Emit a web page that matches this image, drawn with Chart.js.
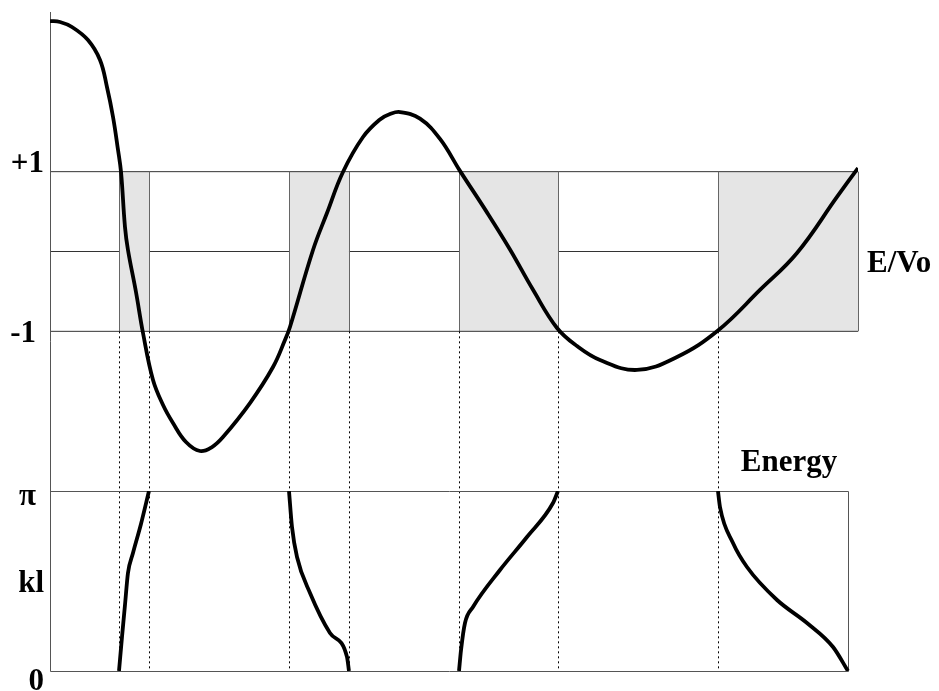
<!DOCTYPE html>
<html>
<head>
<meta charset="utf-8">
<script src="https://cdn.jsdelivr.net/npm/chart.js@4.4.1/dist/chart.umd.min.js"></script>
<style>
  body { margin: 0; background: #fff; }
  canvas { display: block; }
</style>
</head>
<body>
<canvas id="bands" width="939" height="691"></canvas>
<script>
// Energia (eixo x, unidades arbitrarias 0..10) e a funcao f(E) do painel de cima
const energyCurve = [0.000, 0.124, 0.272, 0.470, 0.619, 0.705, 0.780, 0.842, 0.879, 0.928,
  0.965, 1.064, 1.151, 1.275, 1.399, 1.522, 1.683, 1.856, 2.005, 2.141,
  2.475, 2.760, 2.908, 2.970, 3.255, 3.428, 3.626, 3.874, 4.084, 4.208, 4.332,
  4.579, 4.827, 5.074, 5.408, 5.693, 5.978, 6.275, 6.522, 6.807, 7.265,
  7.760, 8.267, 8.787, 9.245, 9.740, 10.000];
const fCurve = [2.887, 2.875, 2.812, 2.649, 2.399, 2.061, 1.685, 1.271, 0.996, 0.307,
  0.019, -0.507, -1.021, -1.610, -1.923, -2.148, -2.386, -2.499, -2.449, -2.324,
  -1.898, -1.447, -1.109, -0.946, 0.019, 0.482, 0.996, 1.434, 1.654, 1.722, 1.747,
  1.665, 1.410, 1.010, 0.490, 0.025, -0.480, -0.958, -1.184, -1.359, -1.484,
  -1.322, -0.990, -0.482, -0.019, 0.683, 1.046];

// Bandas permitidas (inicio e fim em energia)
const bandStart = [0.854, 2.958, 5.062, 8.267];
const bandEnd = [1.225, 3.700, 6.287, 10.000];
const klBoxEnd = 9.876;

// Curvas kl x energia do painel de baixo, uma por banda
const band1E = [0.854, 0.891, 0.928, 0.965, 1.027, 1.126, 1.225];
const band1Kl = [0, 0.593, 1.152, 1.710, 2.059, 2.566, Math.PI];
const band2E = [2.958, 2.995, 3.057, 3.218, 3.465, 3.676, 3.700];
const band2Kl = [Math.PI, 2.513, 1.990, 1.361, 0.663, 0.244, 0];
const band3E = [5.062, 5.087, 5.136, 5.235, 5.569, 5.903, 6.225, 6.287];
const band3Kl = [0, 0.367, 0.838, 1.117, 1.763, 2.339, 2.932, Math.PI];
const band4E = [8.267, 8.292, 8.453, 8.626, 8.998, 9.369, 9.691, 9.876];
const band4Kl = [Math.PI, 2.862, 2.234, 1.815, 1.239, 0.838, 0.419, 0];

const labelFont = 'bold 31px "Liberation Serif", "DejaVu Serif", serif';

function toPoints(xs, ys) {
  return xs.map((x, i) => ({ x: x, y: ys[i] }));
}

function curveDataset(xs, ys, axisId, mode) {
  return {
    data: toPoints(xs, ys),
    yAxisID: axisId,
    borderColor: '#000',
    borderWidth: 3.8,
    pointRadius: 0,
    tension: 0.4,
    cubicInterpolationMode: mode,
  };
}

function hiddenAxis(extra) {
  return Object.assign({
    type: 'linear',
    ticks: { display: false },
    grid: { display: false, drawTicks: false },
    border: { display: false },
  }, extra);
}

// Desenha as faixas cinzas, as linhas +1/-1, as pontilhadas e a caixa de baixo
const diagramPlugin = {
  id: 'diagram',
  beforeDatasetsDraw(chart) {
    const { ctx } = chart;
    const x = chart.scales.x;
    const yf = chart.scales.yf;
    const ykl = chart.scales.ykl;
    const top1 = yf.getPixelForValue(1);
    const bottom1 = yf.getPixelForValue(-1);
    const mid = yf.getPixelForValue(0);

    ctx.save();
    ctx.fillStyle = '#e5e5e5';
    for (let i = 0; i < bandStart.length; i++) {
      const a = x.getPixelForValue(bandStart[i]);
      const b = x.getPixelForValue(bandEnd[i]);
      ctx.fillRect(a, top1, b - a, bottom1 - top1);
    }

    ctx.lineWidth = 1;
    ctx.strokeStyle = '#333';
    ctx.beginPath();
    ctx.moveTo(x.getPixelForValue(0), top1);
    ctx.lineTo(x.getPixelForValue(10), top1);
    ctx.moveTo(x.getPixelForValue(0), bottom1);
    ctx.lineTo(x.getPixelForValue(10), bottom1);
    // linha do zero so nos gaps
    let gapStart = 0;
    for (let i = 0; i < bandStart.length; i++) {
      ctx.moveTo(x.getPixelForValue(gapStart), mid);
      ctx.lineTo(x.getPixelForValue(bandStart[i]), mid);
      gapStart = bandEnd[i];
    }
    ctx.stroke();

    // bordas das bandas
    ctx.strokeStyle = '#666';
    ctx.beginPath();
    for (let i = 0; i < bandStart.length; i++) {
      for (const e of [bandStart[i], bandEnd[i]]) {
        const px = Math.round(x.getPixelForValue(e)) + 0.5;
        ctx.moveTo(px, top1);
        ctx.lineTo(px, bottom1);
      }
    }
    ctx.stroke();

    // pontilhadas ate o painel de baixo
    ctx.strokeStyle = '#000';
    ctx.setLineDash([2, 3]);
    ctx.beginPath();
    for (let i = 0; i < bandStart.length; i++) {
      for (const e of [bandStart[i], bandEnd[i]]) {
        if (e >= 10) continue;
        const px = Math.round(x.getPixelForValue(e)) + 0.5;
        ctx.moveTo(px, bottom1);
        ctx.lineTo(px, ykl.getPixelForValue(0));
      }
    }
    ctx.stroke();
    ctx.setLineDash([]);

    // caixa do painel kl e eixo vertical da esquerda
    ctx.strokeStyle = '#555';
    const left = Math.round(x.getPixelForValue(0)) + 0.5;
    const right = Math.round(x.getPixelForValue(klBoxEnd)) + 0.5;
    const klTop = Math.round(ykl.getPixelForValue(Math.PI)) + 0.5;
    const klBottom = Math.round(ykl.getPixelForValue(0)) + 0.5;
    ctx.beginPath();
    ctx.moveTo(left, klTop);
    ctx.lineTo(right, klTop);
    ctx.lineTo(right, klBottom);
    ctx.lineTo(left, klBottom);
    ctx.moveTo(left, chart.chartArea.top);
    ctx.lineTo(left, klBottom);
    ctx.stroke();
    ctx.restore();
  },
  afterDraw(chart) {
    const { ctx, chartArea } = chart;
    const yf = chart.scales.yf;
    const ykl = chart.scales.ykl;
    const x = chart.scales.x;
    ctx.save();
    ctx.font = labelFont;
    ctx.fillStyle = '#000';
    ctx.textAlign = 'right';
    ctx.textBaseline = 'alphabetic';
    const lx = chartArea.left - 6;
    ctx.fillText('+1', lx, yf.getPixelForValue(1));
    ctx.fillText('-1', lx - 8, yf.getPixelForValue(-1) + 11);
    ctx.fillText('\u03c0', lx - 8, ykl.getPixelForValue(Math.PI) + 14);
    ctx.fillText('kl', lx, ykl.getPixelForValue(Math.PI / 2) + 11);
    ctx.fillText('0', lx, ykl.getPixelForValue(0) + 19);
    ctx.textAlign = 'left';
    ctx.fillText('E/Vo', chartArea.right + 9, yf.getPixelForValue(0) + 20);
    ctx.fillText('Energy', x.getPixelForValue(8.55), ykl.getPixelForValue(Math.PI) - 20);
    ctx.restore();
  },
};

new Chart(document.getElementById('bands'), {
  type: 'line',
  data: {
    datasets: [
      curveDataset(energyCurve, fCurve, 'yf', 'default'),
      curveDataset(band1E, band1Kl, 'ykl', 'monotone'),
      curveDataset(band2E, band2Kl, 'ykl', 'monotone'),
      curveDataset(band3E, band3Kl, 'ykl', 'monotone'),
      curveDataset(band4E, band4Kl, 'ykl', 'monotone'),
    ],
  },
  options: {
    responsive: false,
    animation: false,
    devicePixelRatio: 1,
    layout: { padding: { left: 50, right: 81, top: 12, bottom: 20 } },
    plugins: { legend: { display: false }, tooltip: { enabled: false } },
    scales: {
      x: hiddenAxis({ min: 0, max: 10 }),
      // o primeiro da pilha fica embaixo
      ykl: hiddenAxis({ position: 'left', stack: 'panels', stackWeight: 180, min: 0, max: Math.PI }),
      yf: hiddenAxis({ position: 'left', stack: 'panels', stackWeight: 479, min: -3, max: 3 }),
    },
  },
  plugins: [diagramPlugin],
});
</script>
</body>
</html>
